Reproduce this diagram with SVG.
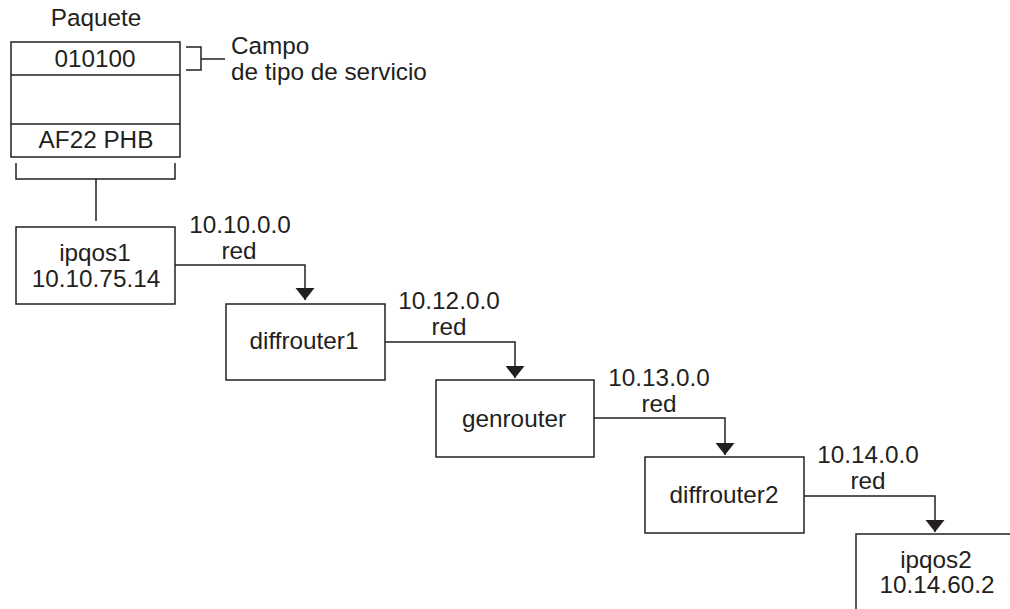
<svg xmlns="http://www.w3.org/2000/svg" width="1010" height="609" viewBox="0 0 1010 609">
<style>
text{font-family:"Liberation Sans",Arial,sans-serif;font-size:24.3px;fill:#231f20;text-anchor:middle}
.l{text-anchor:start}
.box{fill:#fff;stroke:#231f20;stroke-width:1.5}
.ln{fill:none;stroke:#231f20;stroke-width:1.5}
</style>
<defs>
<marker id="ah" markerUnits="userSpaceOnUse" markerWidth="14" markerHeight="20" refX="12" refY="9.5" orient="auto">
<path d="M0,0 L12,9.5 L0,19 Z" fill="#231f20"/>
</marker>
</defs>
<rect width="1010" height="609" fill="#fff"/>
<g id="paquete">
<text x="96" y="26">Paquete</text>
<rect class="box" x="11" y="42" width="169" height="115"/>
<line class="ln" x1="11" y1="75" x2="180" y2="75"/>
<line class="ln" x1="11" y1="124" x2="180" y2="124"/>
<text x="95" y="67">010100</text>
<text x="96" y="148">AF22 PHB</text>
<path class="ln" d="M186,47 H201 V70 H186 M201,59 H225"/>
<text class="l" x="231" y="54">Campo</text>
<text class="l" x="231" y="80">de tipo de servicio</text>
<path class="ln" d="M16,163 V179 H175 V163 M96,179 V221"/>
</g>
<g id="connectors">
<path class="ln" d="M175,265 H305 V300" marker-end="url(#ah)"/>
<path class="ln" d="M385,342 H515 V378" marker-end="url(#ah)"/>
<path class="ln" d="M594,418 H725 V455" marker-end="url(#ah)"/>
<path class="ln" d="M804,496 H935 V532" marker-end="url(#ah)"/>
<text x="240" y="233">10.10.0.0</text>
<text x="239" y="259">red</text>
<text x="449" y="309">10.12.0.0</text>
<text x="449" y="335">red</text>
<text x="659" y="386">10.13.0.0</text>
<text x="659" y="412">red</text>
<text x="868" y="463">10.14.0.0</text>
<text x="868" y="489">red</text>
</g>
<g id="ipqos1">
<rect class="box" x="16" y="227" width="159" height="77"/>
<text x="95" y="261">ipqos1</text>
<text x="96" y="287">10.10.75.14</text>
</g>
<g id="diffrouter1">
<rect class="box" x="226" y="304" width="159" height="76"/>
<text x="304" y="349">diffrouter1</text>
</g>
<g id="genrouter">
<rect class="box" x="436" y="380" width="158" height="77"/>
<text x="514" y="427">genrouter</text>
</g>
<g id="diffrouter2">
<rect class="box" x="645" y="457" width="159" height="76"/>
<text x="724" y="503">diffrouter2</text>
</g>
<g id="ipqos2">
<rect class="box" x="856" y="534" width="200" height="120"/>
<text x="936" y="568">ipqos2</text>
<text x="937" y="593">10.14.60.2</text>
</g>
</svg>
